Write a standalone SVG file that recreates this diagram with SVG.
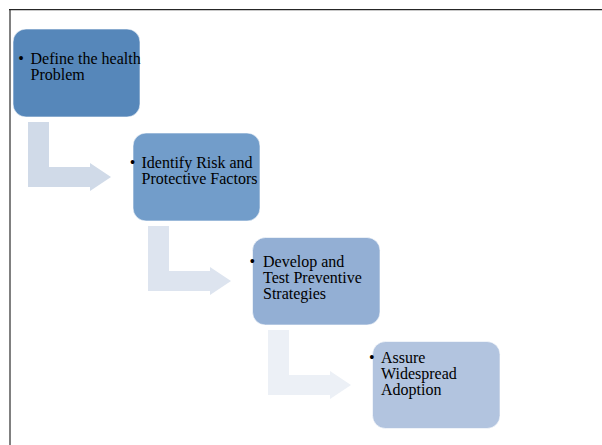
<svg xmlns="http://www.w3.org/2000/svg" width="602" height="445" viewBox="0 0 602 445">
<style>
.box{stroke:#ffffff;stroke-width:1;stroke-opacity:0.6}
.t{font-family:"Liberation Serif","Times New Roman",serif;font-size:16px;fill:#000}
.b{font-family:"Liberation Serif","Times New Roman",serif;font-size:16px;fill:#000;text-anchor:middle}
</style>
<defs>
<path id="bent" d="M28,122 H49 V167 H90 V163 L111,177 L90,191 V187 H28 Z"/>
</defs>
<rect width="602" height="445" fill="#ffffff"/>
<line x1="10" y1="9" x2="10" y2="445" stroke="#808080" stroke-width="2"/>
<line x1="9" y1="9.6" x2="602" y2="9.6" stroke="#262626" stroke-width="1.4"/>
<g id="connectors">
<use href="#bent" fill="#D0DAE8"/>
<use href="#bent" fill="#DDE4EF" transform="translate(120,104)"/>
<use href="#bent" fill="#ECF0F6" transform="translate(240,208)"/>
</g>
<g id="node1">
<rect class="box" x="13" y="29" width="127" height="88" rx="13" fill="#5687BA"/>
<text class="b" x="21" y="64.3">•</text>
<text class="t" x="30.5" y="64.3">Define the health</text>
<text class="t" x="30.5" y="80.3">Problem</text>
</g>
<g id="node2">
<rect class="box" x="133" y="133" width="127" height="88" rx="13" fill="#729DCA"/>
<text class="b" x="132.5" y="168.3">•</text>
<text class="t" x="141.5" y="168.3">Identify Risk and</text>
<text class="t" x="141.5" y="184.3">Protective Factors</text>
</g>
<g id="node3">
<rect class="box" x="252.5" y="237.5" width="127.5" height="87.5" rx="13" fill="#93AFD4"/>
<text class="b" x="252.3" y="267.3">•</text>
<text class="t" x="263" y="267.3">Develop and</text>
<text class="t" x="263" y="283.3">Test Preventive</text>
<text class="t" x="263" y="299.3">Strategies</text>
</g>
<g id="node4">
<rect class="box" x="372.5" y="341.5" width="127.5" height="87" rx="13" fill="#B2C4DF"/>
<text class="b" x="371.8" y="363.3">•</text>
<text class="t" x="381" y="363.3">Assure</text>
<text class="t" x="381" y="379.3">Widespread</text>
<text class="t" x="381" y="395.3">Adoption</text>
</g>
</svg>
